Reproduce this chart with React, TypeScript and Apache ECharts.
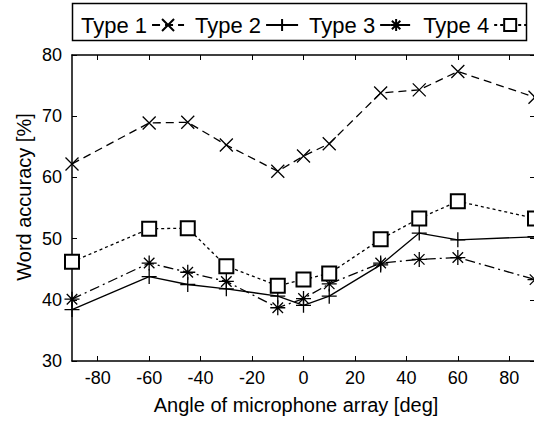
import React, { useEffect, useRef } from "react";
import * as echarts from "echarts";

const angles = [-90, -60, -45, -30, -10, 0, 10, 30, 45, 60, 90];
const type1 = [62.2, 68.9, 69.0, 65.3, 61.0, 63.5, 65.5, 73.8, 74.3, 77.3, 73.1];
const type2 = [38.4, 43.8, 42.5, 41.8, 40.6, 39.1, 40.6, 45.7, 50.9, 49.8, 50.3];
const type3 = [40.1, 46.0, 44.5, 43.0, 38.7, 40.2, 42.6, 46.0, 46.6, 46.9, 43.3];
const type4 = [46.2, 51.6, 51.7, 45.5, 42.3, 43.3, 44.3, 49.9, 53.3, 56.1, 53.3];
const seriesNames = ["Type 1", "Type 2", "Type 3", "Type 4"];
const xTicks = [-80, -60, -40, -20, 0, 20, 40, 60, 80];
const xTitle = "Angle of microphone array [deg]";
const yTitle = "Word accuracy [%]";

const FONT = "Liberation Sans, Arial, Helvetica, sans-serif";

const pairs = (ys: number[]) => angles.map((a, i) => [a, ys[i]]);

export default function App() {
  const ref = useRef<HTMLDivElement>(null);
  useEffect(() => {
    if (!ref.current) return;
    const chart = echarts.init(ref.current, null, { renderer: "svg" });
    const sym = {
      x: "path://M0,0L10,10M10,0L0,10",
      plus: "path://M5,0L5,10M0,5L10,5",
      star: "path://M5,0L5,10M0,5L10,5M1.5,1.5L8.5,8.5M1.5,8.5L8.5,1.5",
    };
    const itemStyle = { color: "#000", borderColor: "#000", borderWidth: 1.3 };
    const mk = (name: string, ys: number[], symbol: string, size: number, dash: any) => ({
      name,
      type: "line",
      data: pairs(ys),
      symbol,
      symbolSize: size,
      itemStyle,
      lineStyle: { color: "#000", width: 1.3, type: dash },
      clip: false,
    });
    const axisCommon = {
      axisLine: { show: true, onZero: false, lineStyle: { color: "#000", width: 1.5 } },
      splitLine: { show: false },
    };
    chart.setOption({
      animation: false,
      backgroundColor: "#fff",
      grid: {
        left: 72,
        top: 55,
        width: 463,
        height: 306,
        outerBoundsMode: "none",
      },
      legend: {
        data: seriesNames,
        left: 76,
        top: 9,
        align: "right",
        itemWidth: 32,
        itemHeight: 15,
        itemGap: 10,
        textStyle: { fontFamily: FONT, fontSize: 22, color: "#000" },
      },
      xAxis: [
        {
          type: "value",
          min: -90,
          max: 90,
          ...axisCommon,
          axisTick: { show: true, inside: true, length: 5, customValues: xTicks, lineStyle: { color: "#000" } },
          axisLabel: {
            customValues: xTicks,
            margin: 8,
            fontFamily: FONT,
            fontSize: 18,
            color: "#000",
          },
        },
        {
          type: "value",
          position: "top",
          min: -90,
          max: 90,
          ...axisCommon,
          axisTick: { show: true, inside: true, length: 5, customValues: xTicks, lineStyle: { color: "#000" } },
          axisLabel: { show: false },
        },
      ],
      yAxis: [
        {
          type: "value",
          min: 30,
          max: 80,
          interval: 10,
          ...axisCommon,
          axisTick: { show: true, inside: true, length: 5, lineStyle: { color: "#000" } },
          axisLabel: { margin: 10, fontFamily: FONT, fontSize: 18, color: "#000" },
        },
        {
          type: "value",
          position: "right",
          min: 30,
          max: 80,
          interval: 10,
          ...axisCommon,
          axisTick: { show: true, inside: true, length: 5, lineStyle: { color: "#000" } },
          axisLabel: { show: false },
        },
      ],
      graphic: [
        {
          type: "rect",
          shape: { x: 72.5, y: 3.5, width: 454, height: 37 },
          style: { fill: "none", stroke: "#000", lineWidth: 1.5 },
          silent: true,
        },
        {
          type: "text",
          x: 296,
          y: 405,
          style: {
            text: xTitle,
            fontFamily: FONT,
            fontSize: 20,
            fill: "#000",
            textAlign: "center",
            textVerticalAlign: "middle",
          },
        },
        {
          type: "text",
          x: 24,
          y: 197,
          rotation: Math.PI / 2,
          style: {
            text: yTitle,
            fontFamily: FONT,
            fontSize: 20,
            fill: "#000",
            textAlign: "center",
            textVerticalAlign: "middle",
          },
        },
      ],
      series: [
        mk(seriesNames[0], type1, sym.x, 13, [8, 5]),
        mk(seriesNames[1], type2, sym.plus, 15, "solid"),
        mk(seriesNames[2], type3, sym.star, 15, [10, 4, 2, 4]),
        mk(seriesNames[3], type4, "emptyRect", 14, [3, 3]),
      ],
    });
    return () => chart.dispose();
  }, []);
  return (
    <div
      ref={ref}
      style={{ position: "absolute", left: 0, top: 0, width: 534, height: 421 }}
    />
  );
}
